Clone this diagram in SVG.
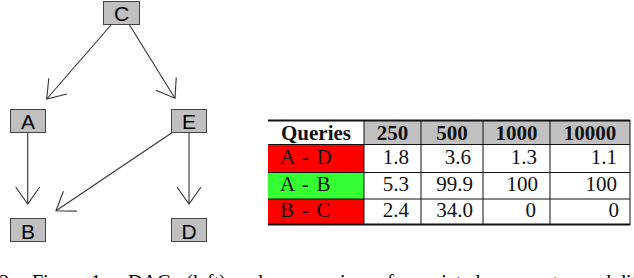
<svg xmlns="http://www.w3.org/2000/svg" width="634" height="278" viewBox="0 0 634 278">
<defs>
<style>
.node rect{fill:#c0c0c0;stroke:#444;stroke-width:1}
.node text{font-family:"Liberation Sans",Arial,sans-serif;font-size:21px;fill:#000;text-anchor:middle}
.edge{stroke:#333;stroke-width:1.1;fill:none;marker-end:url(#vhead)}
.tb{font-family:"Liberation Serif","Times New Roman",serif;font-size:21px;fill:#111}
.hd{font-weight:bold;text-anchor:middle}
.num{text-anchor:end}
.lbl{word-spacing:2.5px}
.grid{stroke:#111;stroke-width:1;fill:none}
.thick{stroke:#111;stroke-width:2}
.cap{font-family:"Liberation Serif","Times New Roman",serif;font-size:20px;fill:#000}
</style>
<marker id="vhead" markerUnits="userSpaceOnUse" markerWidth="40" markerHeight="40" viewBox="-20 -20 40 40" refX="0" refY="0" orient="auto" overflow="visible">
<path d="M-17,-12 L0,0 L-17,12" fill="none" stroke="#333" stroke-width="1.1"/>
</marker>
</defs>
<rect width="634" height="278" fill="#fff"/>

<g id="connectors">
<line class="edge" x1="111" y1="25" x2="46.7" y2="99"/>
<line class="edge" x1="129.5" y1="25" x2="175" y2="98.3"/>
<line class="edge" x1="27.7" y1="133" x2="27.7" y2="204"/>
<line class="edge" x1="171.5" y1="133" x2="56" y2="210.7"/>
<line class="edge" x1="189" y1="133" x2="189" y2="204"/>
</g>

<g id="node-C" class="node"><rect x="103.5" y="1.5" width="36" height="23"/><text x="121.5" y="20.5">C</text></g>
<g id="node-A" class="node"><rect x="10.5" y="109.5" width="35" height="23"/><text x="28" y="129">A</text></g>
<g id="node-E" class="node"><rect x="171.5" y="109.5" width="35" height="23"/><text x="189" y="129">E</text></g>
<g id="node-B" class="node"><rect x="10.5" y="218.5" width="35" height="23"/><text x="28" y="238.5">B</text></g>
<g id="node-D" class="node"><rect x="171.5" y="218.5" width="35" height="23"/><text x="189" y="238.5">D</text></g>

<g id="table">
<rect x="364" y="121" width="266" height="23.5" fill="#c0c0c0"/>
<rect x="268" y="144.5" width="96" height="28" fill="#ff0000"/>
<rect x="268" y="172.5" width="96" height="26.5" fill="#33ff33"/>
<rect x="268" y="199" width="96" height="25.5" fill="#ff0000"/>
<line class="thick" x1="268" y1="120.5" x2="630" y2="120.5"/>
<line class="thick" x1="268" y1="224.5" x2="630" y2="224.5"/>
<line class="grid" x1="268" y1="144.5" x2="630" y2="144.5"/>
<line class="grid" x1="268" y1="172.5" x2="630" y2="172.5"/>
<line class="grid" x1="268" y1="199" x2="630" y2="199"/>
<line class="grid" x1="364" y1="120" x2="364" y2="225"/>
<line class="grid" x1="421" y1="120" x2="421" y2="225"/>
<line class="grid" x1="483" y1="120" x2="483" y2="225"/>
<line class="grid" x1="550" y1="120" x2="550" y2="225"/>
<line class="grid" x1="630" y1="120" x2="630" y2="225"/>
<text class="tb hd" x="316" y="140">Queries</text>
<text class="tb hd" x="392.5" y="140">250</text>
<text class="tb hd" x="452" y="140">500</text>
<text class="tb hd" x="516.5" y="140">1000</text>
<text class="tb hd" x="590" y="140">10000</text>
<text class="tb lbl" x="280" y="163.5">A - D</text>
<text class="tb lbl" x="280" y="190.5">A - B</text>
<text class="tb lbl" x="280" y="216.5">B - C</text>
<text class="tb num" x="409" y="163.5">1.8</text>
<text class="tb num" x="471" y="163.5">3.6</text>
<text class="tb num" x="537" y="163.5">1.3</text>
<text class="tb num" x="617" y="163.5">1.1</text>
<text class="tb num" x="409" y="190.5">5.3</text>
<text class="tb num" x="473" y="190.5">99.9</text>
<text class="tb num" x="538" y="190.5">100</text>
<text class="tb num" x="617" y="190.5">100</text>
<text class="tb num" x="409" y="216.5">2.4</text>
<text class="tb num" x="473" y="216.5">34.0</text>
<text class="tb num" x="536" y="216.5">0</text>
<text class="tb num" x="619" y="216.5">0</text>
</g>

<text class="cap" y="288.5"><tspan x="-1">3.</tspan><tspan x="32">Figure</tspan><tspan x="91">1:</tspan><tspan x="128">DAG</tspan><tspan x="186">(left)</tspan><tspan x="234">and</tspan><tspan x="280">comparison</tspan><tspan x="377">of</tspan><tspan x="398">associated</tspan><tspan x="492">error</tspan><tspan x="537">rates</tspan><tspan x="582">and</tspan><tspan x="616">different</tspan></text>
</svg>
